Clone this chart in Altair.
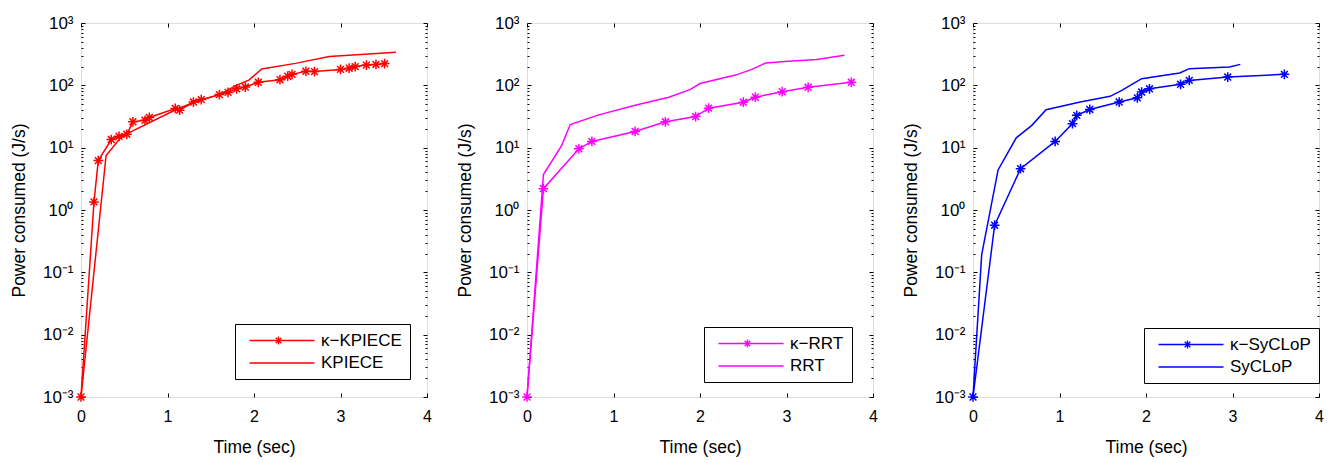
import altair as alt
import pandas as pd

# ---------------- data ----------------
# Panel 1: KPIECE
kkpiece_t = [0, 0.15, 0.2, 0.35, 0.44, 0.53, 0.6, 0.74, 0.79, 1.09, 1.14, 1.3, 1.39, 1.6, 1.7, 1.8, 1.9,
             2.05, 2.3, 2.39, 2.44, 2.6, 2.7, 3.0, 3.1, 3.17, 3.3, 3.41, 3.51]
kkpiece_y = [0.001, 1.35, 6.2, 13.5, 15.2, 16.4, 26, 27.5, 30.5, 42.5, 40, 54, 59, 71, 77, 88, 94,
             112, 123, 140, 150, 168, 166, 180, 188, 200, 211, 216, 223]
kpiece_t = [0, 0.29, 0.45, 0.54, 1.1, 1.3, 1.6, 1.8, 1.94, 2.09, 2.48, 2.87, 3.64]
kpiece_y = [0.001, 7.5, 14, 17, 41, 53, 71, 101, 121, 183, 225, 289, 339]

# Panel 2: RRT
krrt_t = [0, 0.19, 0.6, 0.75, 1.25, 1.6, 1.95, 2.1, 2.5, 2.64, 2.95, 3.25, 3.75]
krrt_y = [0.001, 2.2, 9.6, 12.6, 18.2, 26, 31.6, 43, 53.6, 64.5, 79, 93, 112]
rrt_t = [0, 0.19, 0.4, 0.5, 0.83, 1.25, 1.64, 1.89, 2.0, 2.41, 2.6, 2.76, 3.02, 3.35, 3.67]
rrt_y = [0.001, 3.7, 10.8, 23.5, 33.6, 48, 64.6, 86, 107, 146, 180, 229, 244, 259, 305]

# Panel 3: SyCLoP
ksyclop_t = [0, 0.25, 0.55, 0.95, 1.15, 1.2, 1.35, 1.69, 1.9, 1.95, 2.04, 2.4, 2.5, 2.945, 3.6]
ksyclop_y = [0.001, 0.57, 4.6, 12.6, 24.3, 33, 41, 54, 63, 78, 88, 104, 120, 136, 150]
syclop_t = [0, 0.1, 0.29, 0.5, 0.68, 0.845, 1.24, 1.585, 1.72, 1.95, 2.39, 2.5, 2.965, 3.09]
syclop_y = [0.001, 0.19, 4.4, 14.4, 22.8, 40.7, 54, 66.7, 83, 128, 158, 185, 197, 217]

x_ticks = [0, 1, 2, 3, 4]
y_ticks = [1e-3, 1e-2, 1e-1, 1, 10, 100, 1000]
y_minor = [m * 10.0 ** k for k in range(-3, 3) for m in range(2, 10)]

# ---------------- style ----------------
FONT = "Liberation Sans"
W, H = 346, 374
AST = "M-1,0L1,0M0,-1L0,1M-0.7,-0.7L0.7,0.7M-0.7,0.7L0.7,-0.7"
# legend symbols (size 100 -> 5 px per unit)
u0 = -0.4
LEG_K = (f"M{u0},0L{u0+13},0"
         f"M{u0+5.8-0.8},0L{u0+5.8+0.8},0M{u0+5.8},-0.8L{u0+5.8},0.8"
         f"M{u0+5.8-0.56},-0.56L{u0+5.8+0.56},0.56M{u0+5.8-0.56},0.56L{u0+5.8+0.56},-0.56")
LEG_P = f"M{u0},0L{u0+13},0"

LABEL_EXPR = ("datum.value < 0.005 ? '10⁻³' : datum.value < 0.05 ? '10⁻²' : datum.value < 0.5 ? '10⁻¹' : "
              "datum.value < 5 ? '10⁰' : datum.value < 50 ? '10¹' : datum.value < 500 ? '10²' : '10³'")


def tick_axis(orient, values, size):
    return alt.Axis(orient=orient, values=values, labels=False, title=None, domain=False, grid=False,
                    tickSize={"expr": str(-size)}, tickColor="black", tickWidth=1)


def panel(tk, yk, tp, yp, name_k, name_p, color, lx, ly):
    df_lines = pd.DataFrame({"t": tk + tp, "y": yk + yp,
                             "series": [name_k] * len(tk) + [name_p] * len(tp)})
    df_k = pd.DataFrame({"t": tk, "y": yk})
    xs = alt.Scale(domain=[0, 4], nice=False, zero=False)
    ys = alt.Scale(type="log", domain=[1e-3, 1e3], nice=False)

    x_bottom = alt.Axis(orient="bottom", values=x_ticks, format="d", title="Time (sec)", domain=False,
                        grid=False, tickSize={"expr": "-4"}, tickColor="black", labelPadding=15,
                        labelFont=FONT, titleFont=FONT, labelColor="black", titleColor="black",
                        labelFontSize=16, titleFontSize=17.5, titleFontWeight="normal",
                        titlePadding=14, labelFlush=False)
    y_left = alt.Axis(orient="left", values=y_ticks, labelExpr=LABEL_EXPR, title="Power consumed (J/s)",
                      domain=False, grid=False, tickSize={"expr": "-4"}, tickColor="black",
                      labelFont=FONT, titleFont=FONT, labelColor="black", titleColor="black",
                      labelPadding=12, labelFontSize=17, titleFontSize=17.5, titleFontWeight="normal",
                      titlePadding=14)

    lines = alt.Chart(df_lines).mark_line(color=color, strokeWidth=1.5).encode(
        x=alt.X("t:Q", scale=xs, axis=x_bottom),
        y=alt.Y("y:Q", scale=ys, axis=y_left),
        detail="series:N",
    )
    pts = alt.Chart(df_k).mark_point(shape=AST, size=95, color=color, strokeWidth=1.5,
                                     filled=False, opacity=1).encode(
        x=alt.X("t:Q", scale=xs, axis=tick_axis("top", x_ticks, 4)),
        y=alt.Y("y:Q", scale=ys, axis=tick_axis("right", y_ticks, 4)),
    )
    leg = alt.Chart(df_lines).transform_filter("false").mark_point(
        color=color, filled=False, strokeWidth=1.3, opacity=1).encode(
        x=alt.X("t:Q", scale=xs, axis=None),
        y=alt.Y("y:Q", scale=ys, axis=tick_axis("left", y_minor, 2)),
        shape=alt.Shape("series:N", scale=alt.Scale(domain=[name_k, name_p], range=[LEG_K, LEG_P]),
                        legend=alt.Legend(orient="none", legendX=lx, legendY=ly, title=None,
                                          strokeColor="black", fillColor="white", padding=8,
                                          symbolSize=100, symbolStrokeColor=color,
                                          symbolFillColor="transparent", symbolStrokeWidth=1.3,
                                          labelOffset=61, labelFontSize=17, labelFont=FONT,
                                          labelColor="black", rowPadding=4.5)),
    )
    minor_r = alt.Chart(df_lines).transform_filter("false").mark_point(opacity=0).encode(
        x=alt.X("t:Q", scale=xs, axis=None),
        y=alt.Y("y:Q", scale=ys, axis=tick_axis("right", y_minor, 2)),
    )
    return alt.layer(lines, pts, leg, minor_r).resolve_axis(
        x="independent", y="independent").properties(width=W, height=H)


p1 = panel(kkpiece_t, kkpiece_y, kpiece_t, kpiece_y, "κ−KPIECE", "KPIECE", "#ff0000", 154, 301)
p2 = panel(krrt_t, krrt_y, rrt_t, rrt_y, "κ−RRT", "RRT", "#ff00ff", 177, 304)
p3 = panel(ksyclop_t, ksyclop_y, syclop_t, syclop_y, "κ−SyCLoP", "SyCLoP", "#0000ff", 171, 305)

chart = alt.hconcat(p1, p2, p3, spacing=23).resolve_scale(
    x="independent", y="independent", shape="independent").resolve_legend(shape="independent").properties(
    padding={"left": 1, "top": 5, "right": 2, "bottom": 2}
).configure_view(stroke="black", strokeWidth=1.2).configure_axis(
    labelFont=FONT, titleFont=FONT, labelColor="black", titleColor="black", titleFontWeight="normal"
).configure(font=FONT)

chart.save("out.html", embed_options={"renderer": "svg", "actions": False})
